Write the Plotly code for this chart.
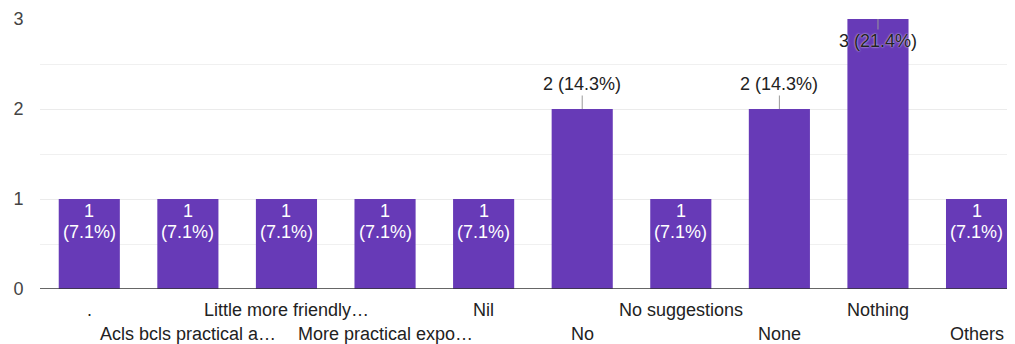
import plotly.graph_objects as go

categories = [".", "Acls bcls practical a…", "Little more friendly…", "More practical expo…",
              "Nil", "No", "No suggestions", "None", "Nothing", "Others"]
counts = [1, 1, 1, 1, 1, 2, 1, 2, 3, 1]
percents = ["7.1%", "7.1%", "7.1%", "7.1%", "7.1%", "14.3%", "7.1%", "14.3%", "21.4%", "7.1%"]
y_ticks = [0, 1, 2, 3]

FONT = "Liberation Sans, Arial, sans-serif"
PURPLE = "#673ab7"
FS = 18

fig = go.Figure()
fig.add_trace(go.Bar(x=categories, y=counts, marker=dict(color=PURPLE, line=dict(width=0)),
                     width=0.62, hoverinfo="skip"))

annotations = []
for i, (c, v, p) in enumerate(zip(categories, counts, percents)):
    if v == 1:
        annotations.append(dict(x=c, y=v, xref="x", yref="y", text=f"{v}",
                                showarrow=False, yanchor="middle", yshift=-12,
                                font=dict(family=FONT, size=FS, color="white")))
        annotations.append(dict(x=c, y=v, xref="x", yref="y", text=f"({p})",
                                showarrow=False, yanchor="middle", yshift=-33,
                                font=dict(family=FONT, size=FS, color="white")))
    elif v == 2:
        annotations.append(dict(x=c, y=v, xref="x", yref="y", text=f"{v} ({p})",
                                showarrow=True, ax=0, ay=-25, arrowhead=0, arrowwidth=1,
                                arrowcolor="#999999",
                                font=dict(family=FONT, size=FS, color="#222222")))
    else:
        annotations.append(dict(x=c, y=v, xref="x", yref="y", text=f"{v} ({p})",
                                showarrow=True, ax=0, ay=22, arrowhead=0, arrowwidth=1,
                                arrowcolor="#999999",
                                font=dict(family=FONT, size=FS, color="#222222",
                                          shadow="0px 0px 2px white")))
    # category label, alternating rows
    annotations.append(dict(x=c, y=0, xref="x", yref="paper", text=c, showarrow=False,
                            yanchor="middle", yshift=-21 if i % 2 == 0 else -45,
                            font=dict(family=FONT, size=FS, color="#222222")))

# the page body has an 8px margin; the figure is sized to fill the 1015x344 window
fig.update_layout(
    width=1007, height=336,
    margin=dict(l=32, r=0, t=11, b=55),
    paper_bgcolor="white", plot_bgcolor="white",
    showlegend=False,
    annotations=annotations,
    xaxis=dict(range=[-0.5, 9.39], showticklabels=False, showgrid=False, zeroline=False,
               showline=False, fixedrange=True),
    yaxis=dict(range=[0, 3], tickvals=y_ticks, showgrid=True, gridcolor="#ebebeb",
               zeroline=False, showline=False,
               ticks="outside", ticklen=12, tickcolor="rgba(0,0,0,0)",
               tickfont=dict(family=FONT, size=FS, color="#444444"),
               minor=dict(dtick=0.5, showgrid=True, gridcolor="#f0f0f0")),
    shapes=[dict(type="line", xref="paper", yref="y", x0=0, x1=1, y0=0, y1=0,
                 line=dict(color="#333333", width=1.5))],
)

fig.write_html("out.html")
